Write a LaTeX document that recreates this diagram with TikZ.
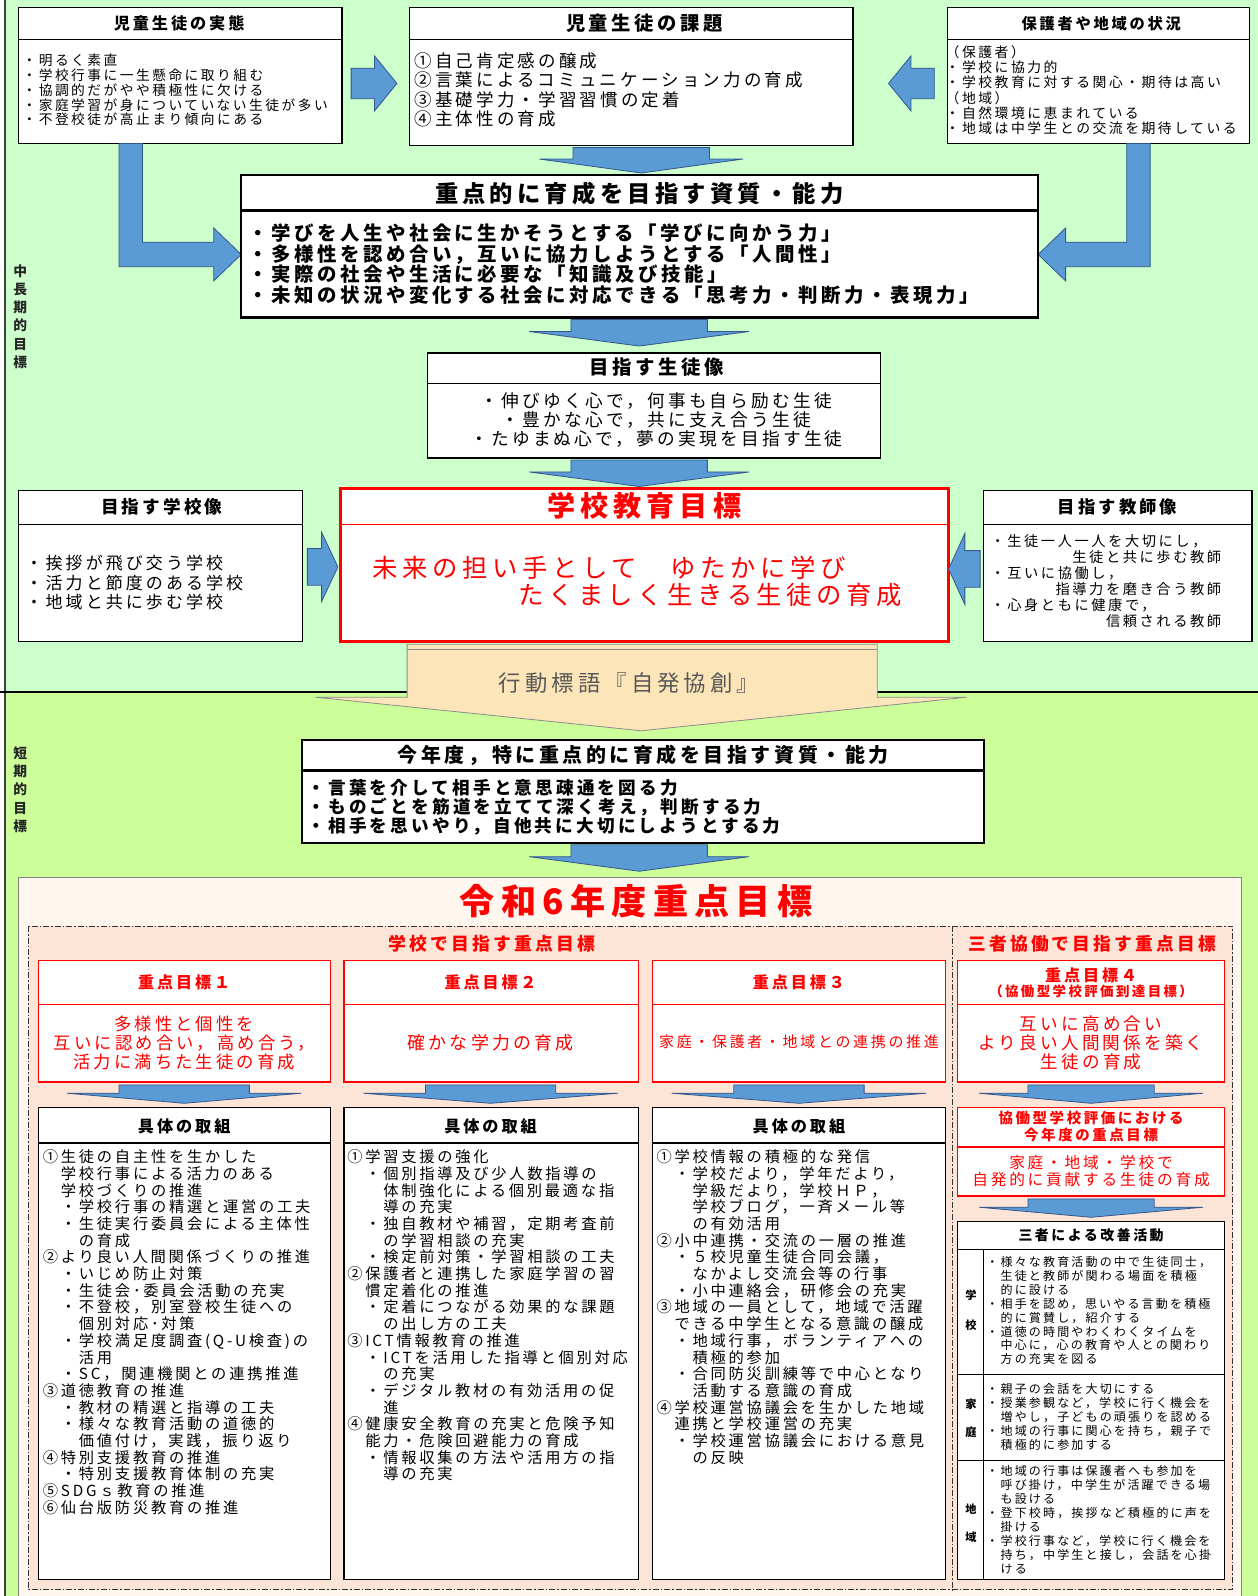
\documentclass[tikz,border=0pt]{standalone}
\usepackage{fontspec}
\setmainfont{Noto Sans CJK JP}[LetterSpace=18]
\newcommand{\fsz}[2]{\fontsize{\fpeval{#1*1.0178}}{\fpeval{#2*1.0178}}\selectfont}
\definecolor{topgreen}{RGB}{204,255,204}
\definecolor{botgreen}{RGB}{204,255,153}
\definecolor{arrowblue}{RGB}{91,155,213}
\definecolor{arrowedge}{RGB}{52,86,140}
\definecolor{mottobeige}{RGB}{252,229,184}
\definecolor{goalpink}{RGB}{252,228,214}
\definecolor{paperpink}{RGB}{255,246,240}
\definecolor{goalred}{RGB}{255,0,0}
% centre x, top y, shaft half width, head half width, height
\newcommand{\flatarrow}[5]{\draw[blockarrow] (#1-#3,#2) -- (#1+#3,#2) -- (#1+#3,#2+#5*0.45) -- (#1+#4,#2+#5*0.45) -- (#1,#2+#5) -- (#1-#4,#2+#5*0.45) -- (#1-#3,#2+#5*0.45) -- cycle;}
\begin{document}
\begin{tikzpicture}[x=1.0178pt,y=-1.0178pt,
  plainbox/.style={draw=black,line width=1.2pt,fill=white},
  heavybox/.style={draw=black,line width=2.4pt,fill=white},
  redbox/.style={draw=goalred,line width=1.2pt,fill=white},
  blockarrow/.style={draw=arrowedge,line width=0.8pt,fill=arrowblue},
  listtext/.style={anchor=north west,align=left},
  redtext/.style={text=goalred}]
\tikzstyle{every node}+=[inner sep=0pt]
\useasboundingbox (0,0) rectangle (1236,1568.1);
% backgrounds
\fill[topgreen] (5,0) rectangle (1240,680);
\fill[botgreen] (5,680) rectangle (1240,1570);
\draw[black!75,line width=1.5pt] (5,0) -- (5,1570);
\draw[line width=2pt] (0,680) -- (1240,680);
\node[anchor=north,align=center,text=black!85,font=\bfseries\fsz{13.5}{17.8}] (midlabel) at (20,260) {中\\長\\期\\的\\目\\標};
\node[anchor=north,align=center,text=black!85,font=\bfseries\fsz{13.5}{18.1}] (shortlabel) at (20,733) {短\\期\\的\\目\\標};
% top row
\draw[plainbox] (18,7) rectangle (336,141);
\draw[line width=1.2pt] (18,39) -- (336,39);
\node[font=\bfseries\fsz{15.9}{17}] (actualhd) at (176,23) {児童生徒の実態};
\node[listtext,font=\fsz{13.5}{14.5}] (actualtxt) at (22,53) {・明るく素直\\・学校行事に一生懸命に取り組む\\・協調的だがやや積極性に欠ける\\・家庭学習が身についていない生徒が多い\\・不登校徒が高止まり傾向にある};
\draw[plainbox] (402,7) rectangle (838,143);
\draw[line width=1.2pt] (402,39) -- (838,39);
\node[font=\bfseries\fsz{19}{20}] (taskhd) at (633,23) {児童生徒の課題};
\node[listtext,font=\fsz{17.2}{18.7}] (tasktxt) at (407,52) {①自己肯定感の醸成\\②言葉によるコミュニケーション力の育成\\③基礎学力・学習習慣の定着\\④主体性の育成};
\draw[plainbox] (931,7) rectangle (1228,141);
\draw[line width=1.2pt] (931,39) -- (1228,39);
\node[font=\bfseries\fsz{15}{16}] (regionhd) at (1082,23) {保護者や地域の状況};
\node[listtext,font=\fsz{13.6}{14.8}] (regiontxt) at (929,45) {（保護者）\\・学校に協力的\\・学校教育に対する関心・期待は高い\\（地域）\\・自然環境に恵まれている\\・地域は中学生との交流を期待している};
\draw[blockarrow] (345,67) -- (368,67) -- (368,55) -- (390,82) -- (368,109) -- (368,97) -- (345,97) -- cycle;
\draw[blockarrow] (918,67) -- (895,67) -- (895,55) -- (873,82) -- (895,109) -- (895,97) -- (918,97) -- cycle;
\flatarrow{630}{145}{67}{100}{25}
\draw[blockarrow] (117,141) -- (140,141) -- (140,238) -- (210,238) -- (210,224) -- (237,250) -- (210,276) -- (210,262) -- (117,262) -- cycle;
\draw[blockarrow] (1130,141) -- (1107,141) -- (1107,238) -- (1047,238) -- (1047,224) -- (1020,250) -- (1047,276) -- (1047,262) -- (1130,262) -- cycle;
% qualities
\draw[heavybox] (237,172) rectangle (1020,312);
\draw[line width=2.4pt] (237,207) -- (1020,207);
\node[font=\bfseries\fsz{22.9}{24}] (corehd) at (628,190) {重点的に育成を目指す資質・能力};
\node[listtext,font=\bfseries\fsz{19.1}{20.3}] (coretxt) at (244,219.5) {・学びを人生や社会に生かそうとする「学びに向かう力」\\・多様性を認め合い，互いに協力しようとする「人間性」\\・実際の社会や生活に必要な「知識及び技能」\\・未知の状況や変化する社会に対応できる「思考力・判断力・表現力」};
\flatarrow{628}{314}{67}{108}{26}
\draw[line width=1.5pt,fill=white] (420,347) rectangle (865,450);
\draw[line width=1.5pt] (420,377) -- (865,377);
\node[font=\bfseries\fsz{19.1}{20}] (studenthd) at (645,361) {目指す生徒像};
\node[anchor=north,align=center,font=\fsz{17.4}{19}] (studenttxt) at (645,385.3) {・伸びゆく心で，何事も自ら励む生徒\\・豊かな心で，共に支え合う生徒\\・たゆまぬ心で，夢の実現を目指す生徒};
\flatarrow{628}{452}{67}{108}{26}
% school goal row
\draw[plainbox] (18,482) rectangle (297,630);
\draw[line width=1.2pt] (18,515) -- (297,515);
\node[font=\bfseries\fsz{17.3}{19}] (schoolhd) at (159,498) {目指す学校像};
\node[listtext,font=\fsz{16.7}{19}] (schooltxt) at (25,545.6) {・挨拶が飛び交う学校\\・活力と節度のある学校\\・地域と共に歩む学校};
\draw[draw=goalred,line width=3pt,fill=white] (335,480) rectangle (932,630);
\draw[goalred,line width=1pt] (335,515) -- (932,515);
\node[redtext,font=\bfseries\fsz{27.6}{29}] (goalhd) at (633,497) {学校教育目標};
\node[anchor=west,redtext,font=\fsz{24.9}{26}] (goalone) at (366,558) {未来の担い手として　ゆたかに学び};
\node[anchor=west,redtext,font=\fsz{24.9}{26}] (goaltwo) at (509,585) {たくましく生きる生徒の育成};
\draw[plainbox] (966,482) rectangle (1230,630);
\draw[line width=1.2pt] (966,515) -- (1230,515);
\node[font=\bfseries\fsz{17}{19}] (teacherhd) at (1098,498) {目指す教師像};
\node[listtext,font=\fsz{14}{31.5}] (teacherodd) at (973,525) {・生徒一人一人を大切にし，\\・互いに協働し，\\・心身ともに健康で，};
\node[anchor=north east,align=right,font=\fsz{14}{31.5}] (teachereven) at (1200,540.5) {生徒と共に歩む教師\\指導力を磨き合う教師\\信頼される教師};
\draw[blockarrow] (302,539) -- (316,539) -- (316,523) -- (332,557) -- (316,591) -- (316,575) -- (302,575) -- cycle;
\draw[blockarrow] (963,541) -- (948,541) -- (948,524) -- (932,559) -- (948,594) -- (948,577) -- (963,577) -- cycle;
% motto
\draw[draw=black!45,line width=0.8pt,fill=mottobeige] (400,633) -- (862,633) -- (862,685) -- (950,685) -- (630,718) -- (310,685) -- (400,685) -- cycle;
\draw[black!45,line width=0.8pt] (400,638) -- (862,638);
\node[text=black!65,font=\fsz{22}{24}] (motto) at (618,671) {行動標語『自発協創』};
% this year
\draw[heavybox] (297,727) rectangle (967,828);
\draw[line width=2.4pt] (297,757) -- (967,757);
\node[font=\bfseries\fsz{19.6}{21}] (yearhd) at (632,742) {今年度，特に重点的に育成を目指す資質・能力};
\node[listtext,font=\bfseries\fsz{17.3}{19}] (yeartxt) at (302,765.3) {・言葉を介して相手と意思疎通を図る力\\・ものごとを筋道を立てて深く考え，判断する力\\・相手を思いやり，自他共に大切にしようとする力};
\flatarrow{628}{830}{67}{108}{26}
% R6 goals
\draw[black!50,line width=0.8pt,fill=paperpink] (18,862) rectangle (1220,1580);
\node[redtext,font=\bfseries\fsz{34.5}{36}] (reiwa) at (625,885) {令和6年度重点目標};
\draw[black!80,line width=1pt,dash pattern=on 6pt off 2pt on 1.5pt off 2pt,fill=goalpink] (28,910) rectangle (1211,1562);
\draw[black!80,line width=1pt,dash pattern=on 6pt off 2pt on 1.5pt off 2pt] (936,910) -- (936,1562);
\node[redtext,font=\bfseries\fsz{17.5}{19}] (schoolaim) at (483,927) {学校で目指す重点目標};
\node[redtext,font=\bfseries\fsz{17.4}{19}] (triaim) at (1073,927) {三者協働で目指す重点目標};
\draw[redbox] (38,944) rectangle (325,1063);
\draw[goalred,line width=1.2pt] (38,987) -- (325,987);
\draw[redbox] (338,944) rectangle (627,1063);
\draw[goalred,line width=1.2pt] (338,987) -- (627,987);
\draw[redbox] (641,944) rectangle (929,1063);
\draw[goalred,line width=1.2pt] (641,987) -- (929,987);
\draw[redbox] (941,944) rectangle (1203,1063);
\draw[goalred,line width=1.2pt] (941,987) -- (1203,987);
\node[redtext,font=\bfseries\fsz{15.8}{17}] (gonehd) at (181,965) {重点目標１};
\node[redtext,font=\bfseries\fsz{15.8}{17}] (gtwohd) at (482,965) {重点目標２};
\node[redtext,font=\bfseries\fsz{15.8}{17}] (gthreehd) at (785,965) {重点目標３};
\node[redtext,font=\bfseries\fsz{15.8}{17}] (gfourhd) at (1072,958) {重点目標４};
\node[redtext,font=\bfseries\fsz{13.2}{14}] (gfoursub) at (1072,974) {（協働型学校評価到達目標）};
\node[anchor=north,align=center,redtext,font=\fsz{17}{19}] (goneaim) at (181,997.5) {多様性と個性を\\互いに認め合い，高め合う，\\活力に満ちた生徒の育成};
\node[redtext,font=\fsz{17.6}{19}] (gtwoaim) at (482,1024) {確かな学力の育成};
\node[redtext,font=\fsz{14.7}{16}] (gthreeaim) at (785,1024) {家庭・保護者・地域との連携の推進};
\node[anchor=north,align=center,redtext,font=\fsz{17.3}{19}] (gfouraim) at (1072,997.4) {互いに高め合い\\より良い人間関係を築く\\生徒の育成};
\flatarrow{181}{1066}{64}{115}{18}
\flatarrow{482}{1066}{64}{125}{18}
\flatarrow{785}{1066}{64}{125}{18}
\flatarrow{1072}{1066}{62}{110}{18}
% concrete actions
\draw[plainbox] (38,1088) rectangle (325,1552);
\draw[line width=1.2pt] (38,1123) -- (325,1123);
\draw[plainbox] (338,1088) rectangle (627,1552);
\draw[line width=1.2pt] (338,1123) -- (627,1123);
\draw[plainbox] (641,1088) rectangle (929,1552);
\draw[line width=1.2pt] (641,1123) -- (929,1123);
\node[font=\bfseries\fsz{15.9}{17}] (conehd) at (181,1107) {具体の取組};
\node[font=\bfseries\fsz{15.9}{17}] (ctwohd) at (482,1107) {具体の取組};
\node[font=\bfseries\fsz{15.9}{17}] (cthreehd) at (785,1107) {具体の取組};
\node[listtext,font=\fsz{15}{16.4}] (conetxt) at (42,1129.5) {①生徒の自主性を生かした\\　学校行事による活力のある\\　学校づくりの推進\\　・学校行事の精選と運営の工夫\\　・生徒実行委員会による主体性\\　　の育成\\②より良い人間関係づくりの推進\\　・いじめ防止対策\\　・生徒会･委員会活動の充実\\　・不登校，別室登校生徒への\\　　個別対応･対策\\　・学校満足度調査(Q-U検査)の\\　　活用\\　・SC，関連機関との連携推進\\③道徳教育の推進\\　・教材の精選と指導の工夫\\　・様々な教育活動の道徳的\\　　価値付け，実践，振り返り\\④特別支援教育の推進\\　・特別支援教育体制の充実\\⑤SDGｓ教育の推進\\⑥仙台版防災教育の推進};
\node[listtext,font=\fsz{15}{16.4}] (ctwotxt) at (341,1129.5) {①学習支援の強化\\　・個別指導及び少人数指導の\\　　体制強化による個別最適な指\\　　導の充実\\　・独自教材や補習，定期考査前\\　　の学習相談の充実\\　・検定前対策・学習相談の工夫\\②保護者と連携した家庭学習の習\\　慣定着化の推進\\　・定着につながる効果的な課題\\　　の出し方の工夫\\③ICT情報教育の推進\\　・ICTを活用した指導と個別対応\\　　の充実\\　・デジタル教材の有効活用の促\\　　進\\④健康安全教育の充実と危険予知\\　能力・危険回避能力の育成\\　・情報収集の方法や活用方の指\\　　導の充実};
\node[listtext,font=\fsz{15}{16.4}] (cthreetxt) at (645,1129.5) {①学校情報の積極的な発信\\　・学校だより，学年だより，\\　　学級だより，学校ＨＰ，\\　　学校ブログ，一斉メール等\\　　の有効活用\\②小中連携・交流の一層の推進\\　・５校児童生徒合同会議，\\　　なかよし交流会等の行事\\　・小中連絡会，研修会の充実\\③地域の一員として，地域で活躍\\　できる中学生となる意識の醸成\\　・地域行事，ボランティアへの\\　　積極的参加\\　・合同防災訓練等で中心となり\\　　活動する意識の育成\\④学校運営協議会を生かした地域\\　連携と学校運営の充実\\　・学校運営協議会における意見\\　　の反映};
% three-party column
\draw[redbox] (941,1088) rectangle (1203,1175);
\draw[goalred,line width=1.2pt] (941,1127) -- (1203,1127);
\node[anchor=north,align=center,redtext,font=\bfseries\fsz{14.2}{16}] (evalhd) at (1072,1091.9) {協働型学校評価における\\今年度の重点目標};
\node[anchor=north,align=center,redtext,font=\fsz{15.4}{16}] (evalaim) at (1072,1135.3) {家庭・地域・学校で\\自発的に貢献する生徒の育成};
\flatarrow{1072}{1178}{62}{110}{18}
\draw[plainbox] (941,1200) rectangle (1203,1552);
\draw[line width=1.2pt] (941,1228) -- (1203,1228);
\draw[line width=0.8pt] (966,1228) -- (966,1552);
\draw[line width=0.8pt] (941,1350) -- (1203,1350);
\draw[line width=0.8pt] (941,1435) -- (1203,1435);
\node[font=\bfseries\fsz{13.7}{15}] (actionhd) at (1072,1214) {三者による改善活動};
\node[anchor=north,align=center,font=\bfseries\fsz{11}{29}] (schoollbl) at (954,1267.5) {学\\校};
\node[anchor=north,align=center,font=\bfseries\fsz{11}{27}] (homelbl) at (954,1374.5) {家\\庭};
\node[anchor=north,align=center,font=\bfseries\fsz{11}{27}] (arealbl) at (954,1477.5) {地\\域};
\node[listtext,font=\fsz{11.8}{13.7}] (schoolact) at (969,1234) {・様々な教育活動の中で生徒同士，\\　生徒と教師が関わる場面を積極\\　的に設ける\\・相手を認め，思いやる言動を積極\\　的に賞賛し，紹介する\\・道徳の時間やわくわくタイムを\\　中心に，心の教育や人との関わり\\　方の充実を図る};
\node[listtext,font=\fsz{11.8}{13.7}] (homeact) at (969,1359) {・親子の会話を大切にする\\・授業参観など，学校に行く機会を\\　増やし，子どもの頑張りを認める\\・地域の行事に関心を持ち，親子で\\　積極的に参加する};
\node[listtext,font=\fsz{11.8}{13.7}] (areaact) at (969,1440) {・地域の行事は保護者へも参加を\\　呼び掛け，中学生が活躍できる場\\　も設ける\\・登下校時，挨拶など積極的に声を\\　掛ける\\・学校行事など，学校に行く機会を\\　持ち，中学生と接し，会話を心掛\\　ける};
\end{tikzpicture}
\end{document}
